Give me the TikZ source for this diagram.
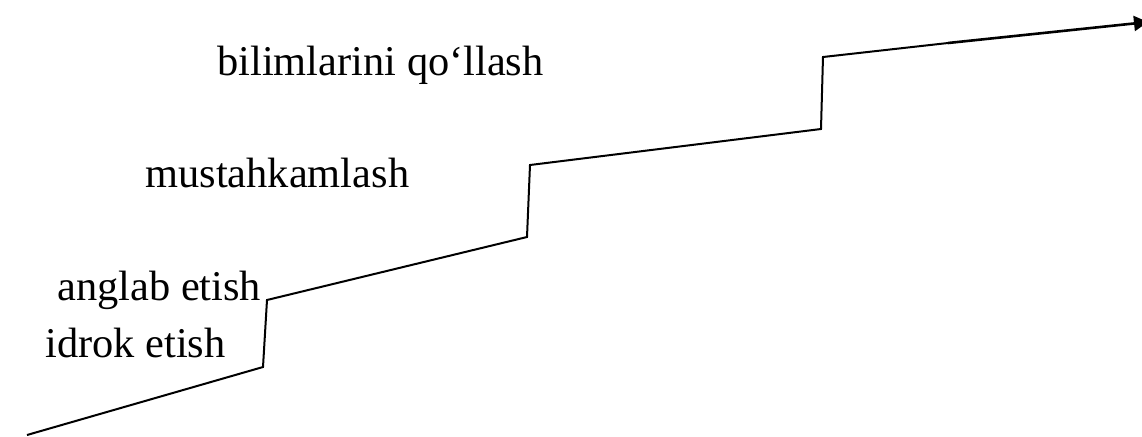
\documentclass[tikz,border=0pt]{standalone}
\usepackage{fontspec}
\setmainfont{Liberation Serif}
\usetikzlibrary{arrows.meta,positioning}
\tikzstyle{stair}  = [line width=1pt]
\tikzstyle{arrow}  = [line width=1.3pt,-{Triangle[length=7pt,width=7.5pt]}]
\tikzstyle{lbl}    = [inner sep=0pt, anchor=base west, font=\fontsize{21.2}{25}\selectfont]
\begin{document}
\begin{tikzpicture}[x=0.5pt,y=-0.5pt]
        \useasboundingbox (0,0) rectangle (1142,436);
        % corners of the stairs
        \coordinate (S0) at (27,435);
        \coordinate (S1) at (263,367);
        \coordinate (S2) at (267,300);
        \coordinate (S3) at (527,237);
        \coordinate (S4) at (530,165);
        \coordinate (S5) at (821,129);
        \coordinate (S6) at (823,57);
        \coordinate (S7) at (948,43);
        \coordinate (T) at (1148,22);
        \draw[stair] (S0) -- (S1) -- (S2) -- (S3) -- (S4) -- (S5) -- (S6) -- (S7);
        \draw[arrow] (S7) -- (T);

        \node[lbl] (L0) at (45,357) {idrok etish};
        \node[lbl] (L1) at (57,300) {anglab etish};
        \node[lbl] (L2) at (145,187) {mustahkamlash};
        \node[lbl] (L3) at (217,75) {bilimlarini qo‘llash};
    \end{tikzpicture}
\end{document}
